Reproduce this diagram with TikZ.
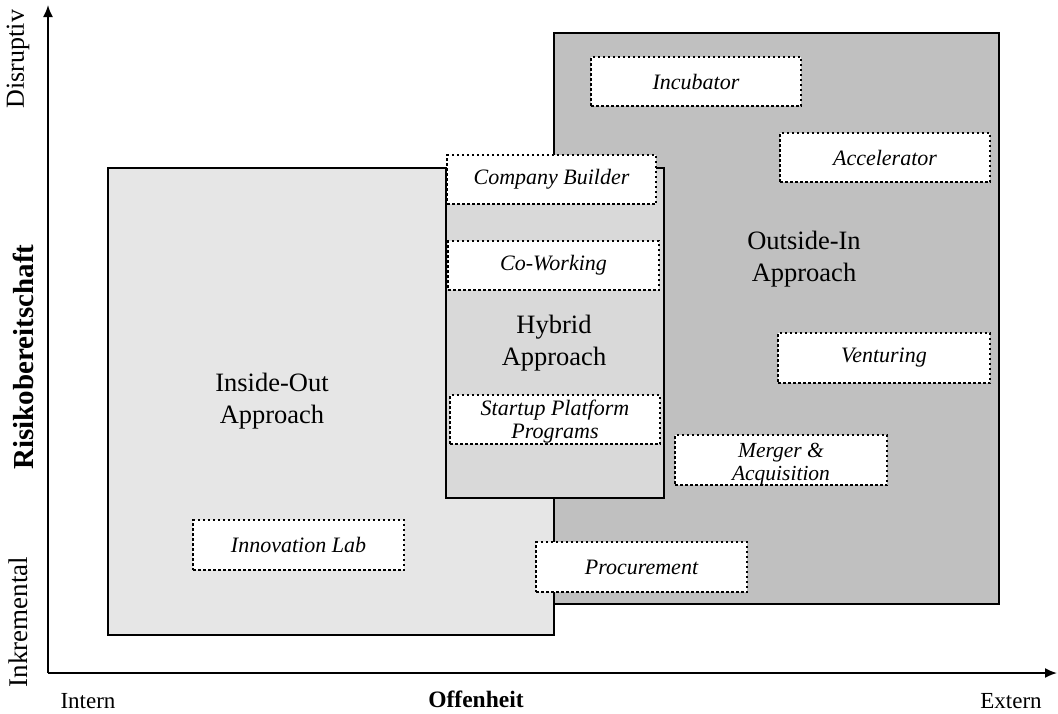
\documentclass[tikz,border=0pt]{standalone}
\usepackage{fontspec}
\setmainfont{Liberation Serif}
\usetikzlibrary{arrows.meta}
\definecolor{iofill}{HTML}{E6E6E6}
\definecolor{oifill}{HTML}{C0C0C0}
\definecolor{hyfill}{HTML}{D9D9D9}
\tikzset{
  region/.style={draw=black, line width=2.8pt, anchor=north west, inner sep=0pt, outer sep=0pt},
  approach/.style={align=center, font=\fontsize{26.5}{32}\selectfont, inner sep=0pt},
  item/.style={draw=black, fill=white, line width=2.5pt, dash pattern=on 2.5pt off 2.5pt,
    minimum width=210pt, minimum height=49pt, inner sep=0pt, align=center,
    font=\fontsize{22}{23}\selectfont\itshape},
  axislbl/.style={font=\fontsize{23}{26}\selectfont, inner sep=0pt},
  axistitle/.style={font=\fontsize{23.5}{27}\selectfont\bfseries, inner sep=0pt},
  axisline/.style={line width=1.8pt, -{Latex[length=12pt,width=10pt]}}
}
\begin{document}
\begin{tikzpicture}[x=1pt,y=-1pt]
\useasboundingbox[fill=white] (0,0) rectangle (1058,713);
% regions
\node[region, fill=oifill, minimum width=445pt, minimum height=571pt] (oi) at (554,33) {};
\node[region, fill=iofill, minimum width=446pt, minimum height=467pt] (io) at (108,168) {};
\node[region, fill=hyfill, minimum width=218pt, minimum height=330pt] (hy) at (446,168) {};
% approach labels
\node[approach] (iol) at (272,401) {Inside-Out\\Approach};
\node[approach] (oil) at (804,259) {Outside-In\\Approach};
\node[approach] (hyl) at (554,343) {Hybrid\\Approach};
% items
\node[item] (inc) at (696,81.5) {Incubator};
\node[item] (acc) at (885,157.5) {Accelerator};
\node[item, minimum width=209pt] (cb) at (551.5,179.5) {Company Builder};
\node[item, minimum width=211pt] (cw) at (553.5,265.5) {Co-Working};
\node[item] (spp) at (555,419.5) {\raisebox{-3pt}[\height][\depth]{\begin{tabular}{@{}c@{}}Startup Platform\\Programs\end{tabular}}};
\node[item, minimum width=212pt, minimum height=50pt] (ven) at (884,358) {Venturing};
\node[item, minimum width=212pt, minimum height=50pt, font=\fontsize{21.5}{23}\selectfont\itshape] (ma) at (781,460) {\raisebox{-4pt}[\height][\depth]{\begin{tabular}{@{}c@{}}Merger \&\\Acquisition\end{tabular}}};
\node[item, minimum width=211pt, minimum height=50pt] (lab) at (298.5,545) {Innovation Lab};
\node[item, minimum width=211pt, minimum height=50pt] (proc) at (641.5,567) {Procurement};
% axes
\coordinate (o) at (48,673);
\coordinate (ytop) at (48,5);
\coordinate (xend) at (1057,673);
\draw[axisline] (o) -- (ytop);
\draw[axisline] (o) -- (xend);
% axis labels
\node[axislbl, rotate=90, font=\fontsize{26}{28}\selectfont] (dis) at (18,59) {Disruptiv};
\node[axistitle, rotate=90, font=\fontsize{29}{31}\selectfont\bfseries] (risk) at (23,357) {Risikobereitschaft};
\node[axislbl, rotate=90, font=\fontsize{27}{29}\selectfont] (ink) at (18,622) {Inkremental};
\node[axislbl] (int) at (88,701) {Intern};
\node[axistitle] (off) at (476,699) {Offenheit};
\node[axislbl] (ext) at (1011,701) {Extern};
\end{tikzpicture}
\end{document}
